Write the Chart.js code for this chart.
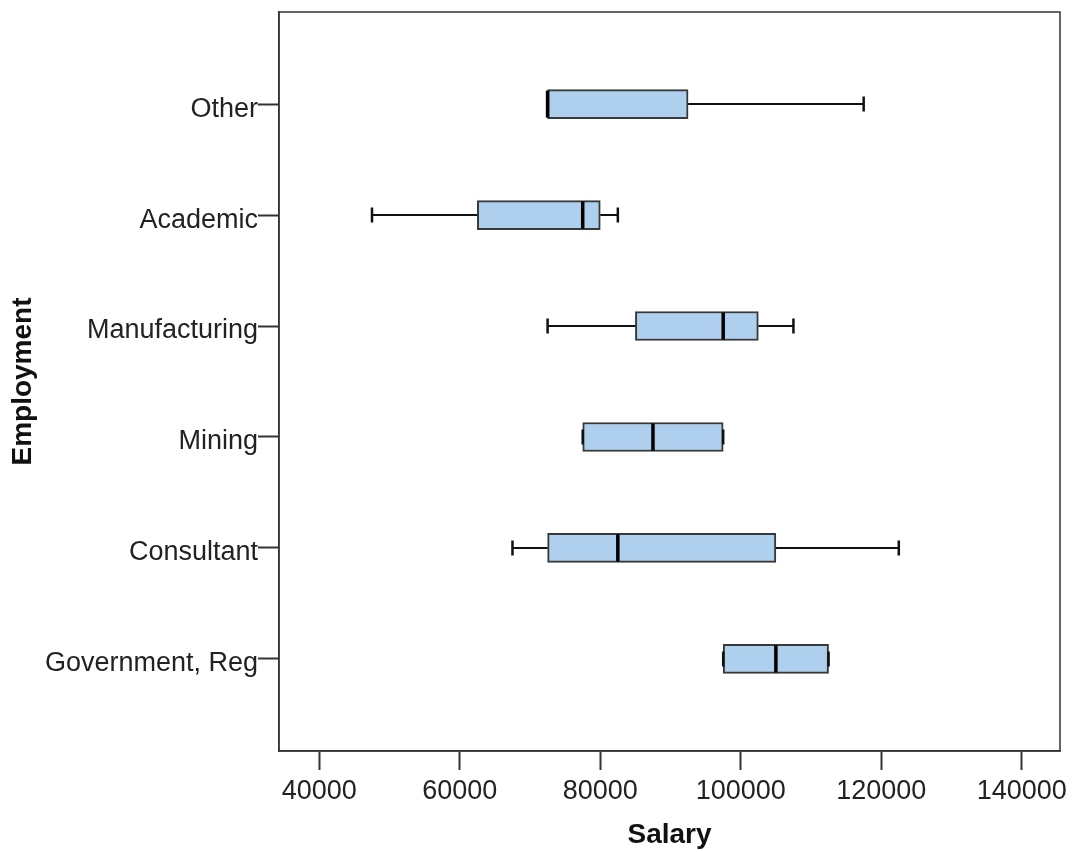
<!DOCTYPE html>
<html>
<head>
<meta charset="utf-8">
<script src="https://cdn.jsdelivr.net/npm/chart.js@4"></script>
<style>
  body { margin: 0; background: #fff; }
  #wrap { width: 1073px; height: 852px; position: relative; }
</style>
</head>
<body>
<div id="wrap"><canvas id="box-chart"></canvas></div>
<script>
// categories top to bottom
const categories = ['Other', 'Academic', 'Manufacturing', 'Mining', 'Consultant', 'Government, Reg'];
const minVals = [72500, 47500, 72500, 77500, 67500, 97500];
const q1Vals = [72500, 62500, 85000, 77500, 72500, 97500];
const medianVals = [72500, 77500, 97500, 87500, 82500, 105000];
const q3Vals = [92500, 80000, 102500, 97500, 105000, 112500];
const maxVals = [117500, 82500, 107500, 97500, 122500, 112500];
const salaryTicks = [40000, 60000, 80000, 100000, 120000, 140000];

const FONT = "'Liberation Sans', Arial, sans-serif";
const boxH = 29;

// whiskers, caps and medians drawn on top of the floating bars
const boxplotPlugin = {
    id: 'boxplotExtras',
    afterDatasetsDraw(chart) {
        const ctx = chart.ctx;
        const xs = chart.scales.x;
        const ys = chart.scales.y;
        ctx.save();
        categories.forEach((c, i) => {
            let y = ys.getPixelForValue(i);
            let xMin = xs.getPixelForValue(minVals[i]);
            let xQ1 = xs.getPixelForValue(q1Vals[i]);
            let xQ3 = xs.getPixelForValue(q3Vals[i]);
            let xMax = xs.getPixelForValue(maxVals[i]);
            let xMed = xs.getPixelForValue(medianVals[i]);

            ctx.strokeStyle = '#111';
            ctx.lineWidth = 2;
            ctx.beginPath();
            if (xMin < xQ1) { ctx.moveTo(xMin, y); ctx.lineTo(xQ1, y); }
            if (xMax > xQ3) { ctx.moveTo(xQ3, y); ctx.lineTo(xMax, y); }
            ctx.stroke();

            ctx.lineWidth = 2.5;
            ctx.beginPath();
            ctx.moveTo(xMin, y - 7.5); ctx.lineTo(xMin, y + 7.5);
            ctx.moveTo(xMax, y - 7.5); ctx.lineTo(xMax, y + 7.5);
            ctx.stroke();

            ctx.strokeStyle = '#000';
            ctx.lineWidth = 3.5;
            ctx.beginPath();
            ctx.moveTo(xMed, y - boxH / 2 + 1);
            ctx.lineTo(xMed, y + boxH / 2 - 1);
            ctx.stroke();
        });
        // frame round the plot
        const a = chart.chartArea;
        ctx.strokeStyle = '#333';
        ctx.lineWidth = 1.5;
        ctx.strokeRect(a.left, a.top, a.right - a.left, a.bottom - a.top);
        ctx.restore();
    }
};

const ctx = document.getElementById('box-chart').getContext('2d');
const boxChart = new Chart(ctx, {
    type: 'bar',
    data: {
        datasets: [{
            data: categories.map((c, i) => ({ x: [q1Vals[i], q3Vals[i]], y: i })),
            backgroundColor: '#aed0ee',
            borderColor: '#383838',
            borderWidth: 2,
            borderSkipped: false,
            barThickness: boxH
        }]
    },
    options: {
        indexAxis: 'y',
        responsive: true,
        maintainAspectRatio: false,
        animation: false,
        layout: { padding: { top: 12, right: 13, left: 0, bottom: 0 } },
        plugins: {
            legend: { display: false },
            tooltip: { enabled: false }
        },
        scales: {
            x: {
                type: 'linear',
                min: 34260,
                max: 145450,
                afterBuildTicks: (scale) => {
                    scale.ticks = salaryTicks.map(v => ({ value: v }));
                },
                afterFit: (scale) => { scale.height = 101; },
                grid: {
                    drawOnChartArea: false,
                    tickLength: 19,
                    tickWidth: 2,
                    tickColor: '#333'
                },
                border: { color: '#333', width: 1.5 },
                ticks: {
                    padding: 5,
                    color: '#222',
                    font: { family: FONT, size: 27 },
                    callback: (v) => String(v)
                },
                title: {
                    display: true,
                    text: 'Salary',
                    color: '#111',
                    font: { family: FONT, size: 28, weight: 'bold' },
                    padding: { top: 0, bottom: 0 }
                }
            },
            y: {
                type: 'linear',
                reverse: true,
                offset: false,
                min: -0.83,
                max: 5.83,
                afterBuildTicks: (scale) => {
                    scale.ticks = categories.map((c, i) => ({ value: i }));
                },
                afterFit: (scale) => {
                    scale.width = 279;
                    scale.paddingTop = 0;
                    scale.paddingBottom = 0;
                },
                grid: {
                    offset: false,
                    drawOnChartArea: false,
                    tickLength: 21,
                    tickWidth: 2,
                    tickColor: '#333'
                },
                border: { color: '#333', width: 1.5 },
                ticks: {
                    padding: 0,
                    color: '#222',
                    // empty first line + short line height drops each label a few px below its tick, as in the source
                    font: { family: FONT, size: 27, lineHeight: '10px' },
                    callback: (v) => ['', categories[v]]
                },
                title: {
                    display: true,
                    text: 'Employment',
                    color: '#111',
                    font: { family: FONT, size: 28, weight: 'bold' },
                    padding: { top: 6, bottom: 0 }
                }
            }
        }
    },
    plugins: [boxplotPlugin]
});
</script>
</body>
</html>
